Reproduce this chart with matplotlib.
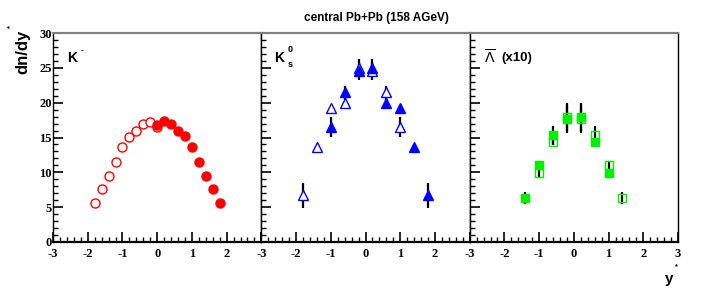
import numpy as np
import matplotlib
matplotlib.use("Agg")
import matplotlib.pyplot as plt
from matplotlib.ticker import MultipleLocator

# K- (filled = measured, open = reflected)
km_x_fill = [0.0, 0.2, 0.4, 0.6, 0.8, 1.0, 1.2, 1.4, 1.6, 1.8]
km_y_fill = [16.8, 17.3, 16.9, 16.0, 15.2, 13.6, 11.5, 9.5, 7.6, 5.6]
km_x_open = [-1.8, -1.6, -1.4, -1.2, -1.0, -0.8, -0.6, -0.4, -0.2, 0.0]
km_y_open = [5.6, 7.6, 9.5, 11.5, 13.6, 15.1, 15.9, 16.9, 17.2, 16.5]

# K0s
k0_x_fill = [-1.0, -0.6, -0.2, 0.2, 0.6, 1.0, 1.4, 1.8]
k0_y_fill = [16.5, 21.6, 24.6, 25.0, 20.0, 19.2, 13.6, 6.7]
k0_e_fill = [1.4, 0.8, 1.3, 1.3, 0.6, 0.0, 0.0, 1.8]
k0_x_open = [-1.8, -1.4, -1.0, -0.6, -0.2, 0.2, 0.6, 1.0]
k0_y_open = [6.7, 13.6, 19.2, 20.0, 25.0, 24.6, 21.6, 16.5]
k0_e_open = [1.8, 0.0, 0.0, 0.6, 1.3, 1.3, 0.8, 1.4]

# anti-Lambda x10
lb_x_fill = [-1.4, -1.0, -0.6, -0.2, 0.2, 0.6, 1.0]
lb_y_fill = [6.3, 11.0, 15.3, 17.6, 18.0, 14.4, 9.9]
lb_e_fill = [0.9, 0.6, 1.4, 2.0, 2.0, 0.5, 0.6]
lb_x_open = [-1.0, -0.6, -0.2, 0.2, 0.6, 1.0, 1.4]
lb_y_open = [9.9, 14.4, 18.0, 17.6, 15.3, 11.0, 6.3]
lb_e_open = [0.6, 0.5, 2.0, 2.0, 1.4, 0.6, 0.9]

xtick_vals = [-3, -2, -1, 0, 1, 2, 3]

W, H = 709, 305
fig = plt.figure(figsize=(W / 100, H / 100), dpi=100)

left, right, top, bot = 53, 678, 33, 242
pw = (right - left) / 3
axes = []
for i in range(3):
    ax = fig.add_axes([(left + i * pw) / W, (H - bot) / H, pw / W, (bot - top) / H])
    ax.set_xlim(-3, 3)
    ax.set_ylim(0, 30)
    ax.xaxis.set_major_locator(MultipleLocator(1))
    ax.xaxis.set_minor_locator(MultipleLocator(0.2))
    ax.yaxis.set_major_locator(MultipleLocator(5))
    ax.yaxis.set_minor_locator(MultipleLocator(1))
    ax.tick_params(which='major', direction='in', length=7, width=1.2, color='black',
                   top=False, right=False)
    ax.tick_params(which='minor', direction='in', length=3.5, width=1.0, color='black',
                   top=False, right=False)
    ax.set_xticks(xtick_vals)
    labs = [str(v) for v in xtick_vals]
    if i < 2:
        labs[-1] = ''
    ax.set_xticklabels(labs, fontfamily='Liberation Serif', fontweight='bold', fontsize=9)
    ax.tick_params(axis='x', pad=4.5)
    if i == 0:
        ax.set_yticklabels([str(int(v)) for v in ax.get_yticks()],
                           fontfamily='Liberation Serif', fontweight='bold', fontsize=9)
        ax.tick_params(axis='y', pad=1)
    else:
        ax.set_yticklabels([])
    ax.spines['top'].set_color('#808080')
    ax.spines['top'].set_linewidth(1.6)
    ax.spines['bottom'].set_linewidth(1.6)
    ax.spines['left'].set_linewidth(1.0)
    ax.spines['right'].set_linewidth(1.0)
    axes.append(ax)

ax1, ax2, ax3 = axes

# K-
ax1.plot(km_x_open, km_y_open, 'o', ms=6.5, mfc='white', mec='red', mew=1.0, zorder=3)
ax1.plot(km_x_fill, km_y_fill, 'o', ms=6.5, mfc='red', mec='red', zorder=4)
ax1.text(0.07, 0.88, r'K', transform=ax1.transAxes, fontsize=10, fontweight='bold',
         fontfamily='Liberation Sans', va='center')
ax1.text(0.135, 0.915, '-', transform=ax1.transAxes, fontsize=6, fontweight='bold',
         fontfamily='Liberation Sans', va='center')

# K0s
ax2.errorbar(k0_x_fill, k0_y_fill, yerr=k0_e_fill, fmt='none', ecolor='black', elinewidth=1.6, capsize=0, zorder=2)
ax2.errorbar(k0_x_open, k0_y_open, yerr=k0_e_open, fmt='none', ecolor='black', elinewidth=1.6, capsize=0, zorder=2)
ax2.plot(k0_x_open, k0_y_open, '^', ms=7, mfc='white', mec='blue', mew=1.0, zorder=3)
ax2.plot(k0_x_fill, k0_y_fill, '^', ms=7, mfc='blue', mec='blue', zorder=4)
ax2.text(0.06, 0.88, 'K', transform=ax2.transAxes, fontsize=10, fontweight='bold',
         fontfamily='Liberation Sans', va='center')
ax2.text(0.125, 0.92, '0', transform=ax2.transAxes, fontsize=6.5, fontweight='bold',
         fontfamily='Liberation Sans', va='center')
ax2.text(0.125, 0.85, 's', transform=ax2.transAxes, fontsize=6.5, fontweight='bold',
         fontfamily='Liberation Sans', va='center')

# anti-Lambda
ax3.errorbar(lb_x_fill, lb_y_fill, yerr=lb_e_fill, fmt='none', ecolor='black', elinewidth=1.6, capsize=0, zorder=2)
ax3.errorbar(lb_x_open, lb_y_open, yerr=lb_e_open, fmt='none', ecolor='black', elinewidth=1.6, capsize=0, zorder=2)
ax3.plot(lb_x_fill, lb_y_fill, 's', ms=6, mfc='#00ee00', mec='#00ee00', zorder=3)
ax3.plot(lb_x_open, lb_y_open, 's', ms=6, mfc='none', mec='#00ee00', mew=1.0, zorder=4)
ax3.text(0.07, 0.885, r'$\overline{\Lambda}$', transform=ax3.transAxes, fontsize=10,
         fontfamily='serif', va='center')
ax3.text(0.15, 0.88, '(x10)', transform=ax3.transAxes, fontsize=9.5, fontweight='bold',
         fontfamily='Liberation Sans', va='center')

fig.text(376 / W, 1 - 18 / H, 'central Pb+Pb (158 AGeV)', ha='center', va='center',
         fontsize=8.5, fontweight='bold', fontfamily='Liberation Sans')
fig.text(23 / W, 1 - 52 / H, 'dn/dy', rotation=90, ha='center', va='center',
         fontsize=12, fontweight='bold', fontfamily='Liberation Sans')
fig.text(11 / W, 1 - 26 / H, '*', rotation=90, ha='center', va='center',
         fontsize=5.5, fontweight='bold', fontfamily='Liberation Sans')
fig.text(669 / W, 1 - 279 / H, 'y', ha='center', va='center',
         fontsize=11, fontweight='bold', fontfamily='Liberation Sans')
fig.text(676 / W, 1 - 267 / H, '*', ha='center', va='center',
         fontsize=5.5, fontweight='bold', fontfamily='Liberation Sans')

fig.savefig('out.png', dpi=100)
